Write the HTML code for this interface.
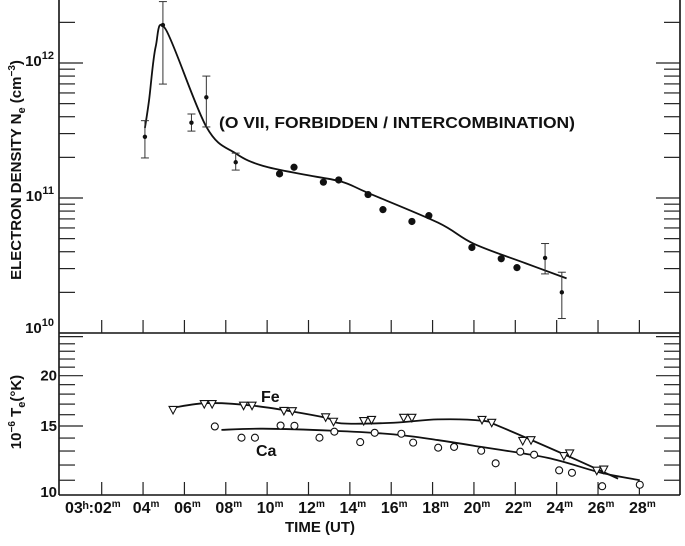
<!DOCTYPE html>
<html><head><meta charset="utf-8"><style>
html,body{margin:0;padding:0;background:#fff;}
svg{display:block;font-family:"Liberation Sans",sans-serif;font-weight:bold;}
</style></head><body>
<svg id="chart" width="685" height="546" viewBox="0 0 685 546">
<g id="frame" stroke="#111" stroke-width="1.6" fill="none">
<line x1="59" y1="0" x2="59" y2="495"/>
<line x1="680" y1="0" x2="680" y2="495"/>
<line x1="59" y1="333" x2="680" y2="333"/>
<line x1="59" y1="495" x2="680" y2="495"/>
</g>
<g id="ticks" stroke="#222" stroke-width="1.2"></g>
<g id="labels" fill="#111"></g>
<g id="curves" fill="none" stroke="#111" stroke-width="1.8"></g>
<g id="marks"></g>
<text x="219" y="128" font-size="15.5" textLength="356" lengthAdjust="spacingAndGlyphs" fill="#111">(O VII, FORBIDDEN / INTERCOMBINATION)</text>
<text x="261" y="402" font-size="16" fill="#111">Fe</text>
<text x="256" y="456" font-size="16" fill="#111">Ca</text>
<text transform="translate(21,170) rotate(-90)" text-anchor="middle" font-size="15" fill="#111">ELECTRON DENSITY N<tspan font-size="11" dy="4">e</tspan><tspan dy="-4"> (cm</tspan><tspan font-size="10" dy="-6">−3</tspan><tspan dy="6">)</tspan></text>
<text transform="translate(21,412) rotate(-90)" text-anchor="middle" font-size="15" fill="#111">10<tspan font-size="10" dy="-6">−6</tspan><tspan dy="6"> T</tspan><tspan font-size="11" dy="4">e</tspan><tspan dy="-4">(°K)</tspan></text>
<text x="320" y="532" text-anchor="middle" font-size="15" fill="#111">TIME (UT)</text>
</svg>
<script>
// ---- data ----
const xTickMinutes = [2,4,6,8,10,12,14,16,18,20,22,24,26,28];
const xTickLabels = ["03ʰ:02","04","06","08","10","12","14","16","18","20","22","24","26","28"];
const densTimes = [4.09,4.96,6.34,7.06,8.48,10.6,11.3,12.72,13.46,14.88,15.6,17.0,17.82,19.9,21.32,22.08,23.44,24.25];
const densValues = [2.84e11,1.91e12,3.61e11,5.57e11,1.84e11,1.51e11,1.69e11,1.31e11,1.36e11,1.06e11,8.2e10,6.7e10,7.4e10,4.3e10,3.55e10,3.05e10,3.6e10,2.0e10];
const errIdx = [0,1,2,3,4,16,17];
const errLow = [1.98e11,6.98e11,3.13e11,3.36e11,1.61e11,2.74e10,1.28e10];
const errHigh = [3.74e11,2.85e12,4.19e11,8.0e11,2.15e11,4.6e10,2.82e10];
const densFitTimes = [4.09,4.29,4.61,5.09,7.06,8.48,9.8,11.91,13.61,14.88,18.27,19.97,22.51,24.48];
const densFitValues = [3.3e11,5.3e11,1.32e12,1.78e12,3.37e11,2.14e11,1.73e11,1.48e11,1.32e11,1.09e11,6.56e10,4.6e10,3.28e10,2.54e10];
const feTimes = [5.45,6.96,7.34,8.86,9.27,10.81,11.22,12.83,13.21,14.67,15.05,16.6,17.0,20.39,20.86,22.36,22.76,24.35,24.63,25.94,26.28];
const feTemps = [16.44,17.0,17.0,16.85,16.85,16.35,16.33,15.76,15.37,15.43,15.53,15.72,15.72,15.53,15.28,13.77,13.83,12.63,12.82,11.62,11.69];
const caTimes = [7.47,8.76,9.41,10.65,11.32,12.53,13.25,14.5,15.2,16.49,17.06,18.27,19.04,20.35,21.05,22.24,22.91,24.12,24.74,26.2,28.02];
const caTemps = [14.96,14.03,14.03,15.04,15.02,14.03,14.52,13.68,14.43,14.35,13.64,13.25,13.31,13.02,12.12,12.95,12.73,11.64,11.48,10.63,10.72];
const feFitTimes = [5.45,7.14,9.53,12.77,13.58,16.12,18.25,20.39,21.24,24.63,26.97];
const feFitTemps = [16.65,17.1,16.8,15.76,15.23,15.28,15.58,15.46,14.96,12.58,11.1];
const caFitTimes = [7.79,9.8,13.19,16.12,18.25,20.39,23.57,26.1,28.02];
const caFitTemps = [14.67,14.77,14.6,14.3,13.84,13.3,12.5,11.5,11.0];

// ---- scales ----
const X = t => 101.7 + (t-2)*20.68;
const YN = n => 333 - (Math.log10(n)-10)*135;
const YT = T => 426 + Math.log10(15/T)*402.7;
const NS = "http://www.w3.org/2000/svg";
function mk(tag, attrs, parent){const e=document.createElementNS(NS,tag);for(const k in attrs)e.setAttribute(k,attrs[k]);parent.appendChild(e);return e;}
const ticks=document.getElementById('ticks'), labels=document.getElementById('labels'), curves=document.getElementById('curves'), marks=document.getElementById('marks');

// x ticks
xTickMinutes.forEach((m,i)=>{
  const x=X(m);
  let a=mk('line',{x1:x,y1:333,x2:x,y2:320},ticks);
  
  
  let b=mk('line',{x1:x,y1:495,x2:x,y2:482},ticks);
  
  
  const first = i===0;
  const t=mk('text',{x:first?x+19:x+3,y:513,'text-anchor':first?'end':'middle','font-size':'16'},labels);
  
  
  t.textContent=xTickLabels[i];
  const s=document.createElementNS(NS,'tspan');s.setAttribute('font-size','10');s.setAttribute('dy','-6');s.textContent='m';t.appendChild(s);
});
// density y ticks (log)
for(let d=10; d<=12; d++){
  for(let k=1;k<=9;k++){
    const v=k*Math.pow(10,d); const y=YN(v);
    if(y<2||y>333) continue;
    const len = k===1?24:16;
    let l=mk('line',{x1:59,y1:y,x2:59+len,y2:y},ticks);
    
    
    let r=mk('line',{x1:680,y1:y,x2:680-len,y2:y},ticks);
    
    
  }
  const t=mk('text',{x:54,y:YN(Math.pow(10,d))+(d===10?0:3),'text-anchor':'end','font-size':'15'},labels);
  
  
  t.textContent='10';
  const s=document.createElementNS(NS,'tspan');s.setAttribute('font-size','11');s.setAttribute('dy','-7');s.textContent=String(d);t.appendChild(s);
}
// temperature ticks
for(let T=9;T<=25;T++){
  const y=YT(T); if(y<336||y>494) continue;
  const len=(T%5===0)?24:16;
  let l=mk('line',{x1:59,y1:y,x2:59+len,y2:y},ticks);
  
  
  let r=mk('line',{x1:680,y1:y,x2:680-len,y2:y},ticks);
  
  
}
[10,15,20].forEach(T=>{
  const t=mk('text',{x:57,y:Math.min(YT(T)+5,497),'text-anchor':'end','font-size':'15'},labels);
  
  
  t.textContent=String(T);
});
// smooth path
function smooth(pts){
  let d=`M${pts[0][0]},${pts[0][1]}`;
  for(let i=0;i<pts.length-1;i++){
    const p0=pts[Math.max(0,i-1)],p1=pts[i],p2=pts[i+1],p3=pts[Math.min(pts.length-1,i+2)];
    const c1=[p1[0]+(p2[0]-p0[0])/6,p1[1]+(p2[1]-p0[1])/6], c2=[p2[0]-(p3[0]-p1[0])/6,p2[1]-(p3[1]-p1[1])/6];
    d+=` C${c1[0]},${c1[1]} ${c2[0]},${c2[1]} ${p2[0]},${p2[1]}`;
  }
  return d;
}
let p1=mk('path',{d:smooth(densFitTimes.map((t,i)=>[X(t),YN(densFitValues[i])]))},curves);


let p2=mk('path',{d:smooth(feFitTimes.map((t,i)=>[X(t),YT(feFitTemps[i])]))},curves);


let p3=mk('path',{d:smooth(caFitTimes.map((t,i)=>[X(t),YT(caFitTemps[i])]))},curves);


// error bars
errIdx.forEach((idx,j)=>{
  const x=X(densTimes[idx]), y1=YN(errLow[j]), y2=YN(errHigh[j]);
  const g=mk('g',{stroke:'#333','stroke-width':'1'},marks);
  
  
  mk('line',{x1:x,y1:y1,x2:x,y2:y2},g);
  mk('line',{x1:x-4,y1:y1,x2:x+4,y2:y1},g);
  mk('line',{x1:x-4,y1:y2,x2:x+4,y2:y2},g);
});
densTimes.forEach((t,i)=>{
  const small=errIdx.includes(i);
  const c=mk('circle',{cx:X(t),cy:YN(densValues[i]),r:small?2.2:3.6,fill:'#111'},marks);
  
  
});
feTimes.forEach((t,i)=>{
  const x=X(t),y=YT(feTemps[i]);
  const p=mk('path',{d:`M${x-4},${y-3.5} L${x+4},${y-3.5} L${x},${y+4} Z`,fill:'#fff',stroke:'#111','stroke-width':'1.1'},marks);
  
  
});
caTimes.forEach((t,i)=>{
  const c=mk('circle',{cx:X(t),cy:YT(caTemps[i]),r:3.5,fill:'#fff',stroke:'#111','stroke-width':'1.1'},marks);
  
  
});
</script>
</body></html>
